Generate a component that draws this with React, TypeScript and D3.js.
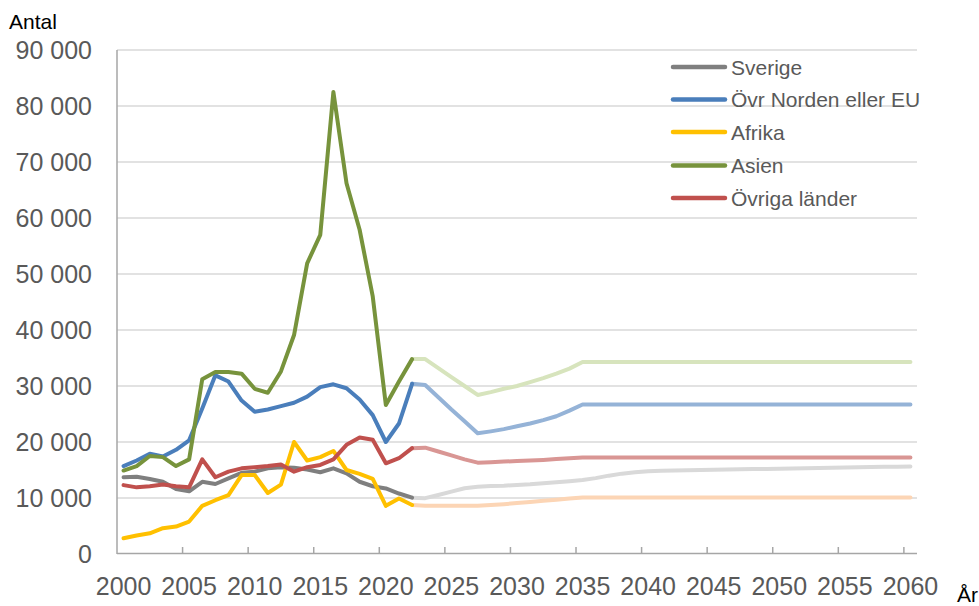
import React from "react";
import * as d3 from "d3";

const years: number[] = d3.range(2000, 2061);
const histYears: number[] = d3.range(2000, 2023);
const projYears: number[] = d3.range(2022, 2061);

const seriesNames = ["Sverige", "Övr Norden eller EU", "Afrika", "Asien", "Övriga länder"];
const histColors = ["#7f7f7f", "#4a7ebb", "#ffc000", "#77933c", "#c0504d"];
const projColors = ["#d9d9d9", "#95b3d7", "#fcd5b5", "#d7e4bd", "#d99694"];

// Historical 2000–2022
const sverigeHist = [13700, 13800, 13400, 12900, 11600, 11200, 12900, 12500, 13500, 14500, 14700, 15300, 15500, 15400, 15100, 14600, 15300, 14400, 12900, 12100, 11700, 10800, 10060];
const norden2Hist = [15700, 16700, 17900, 17400, 18600, 20300, 26000, 31900, 30800, 27400, 25400, 25800, 26400, 27000, 28100, 29800, 30300, 29600, 27600, 24800, 20000, 23300, 30400];
const afrikaHist = [2800, 3300, 3700, 4600, 4900, 5800, 8600, 9600, 10500, 14100, 14100, 10900, 12400, 20000, 16700, 17300, 18400, 15000, 14300, 13400, 8600, 9900, 8750];
const asienHist = [14900, 15700, 17500, 17300, 15700, 16900, 31200, 32500, 32500, 32200, 29500, 28800, 32600, 39100, 51900, 57000, 82500, 66200, 57900, 46000, 26600, 30800, 34800];
const ovrigaHist = [12300, 11900, 12100, 12400, 12100, 11900, 16900, 13700, 14700, 15300, 15500, 15700, 16000, 14700, 15500, 15900, 16900, 19500, 20800, 20400, 16200, 17100, 18900];

// Projection 2022–2060
const sverigeProj = [10060, 9970, 10540, 11130, 11730, 12020, 12140, 12200, 12320, 12440, 12620, 12800, 13000, 13200, 13550, 13990, 14350, 14580, 14760, 14850, 14910, 14960, 15000, 15040, 15080, 15120, 15160, 15200, 15240, 15280, 15320, 15360, 15400, 15440, 15480, 15520, 15560, 15600, 15640];
const nordenProj = [30400, 30180, 28000, 25800, 23700, 21550, 21900, 22300, 22800, 23300, 23900, 24600, 25600, 26700, 26700, 26700, 26700, 26700, 26700, 26700, 26700, 26700, 26700, 26700, 26700, 26700, 26700, 26700, 26700, 26700, 26700, 26700, 26700, 26700, 26700, 26700, 26700, 26700, 26700];
const afrikaProj = [8750, 8630, 8630, 8630, 8630, 8630, 8750, 8900, 9100, 9300, 9500, 9700, 9900, 10100, 10100, 10100, 10100, 10100, 10100, 10100, 10100, 10100, 10100, 10100, 10100, 10100, 10100, 10100, 10100, 10100, 10100, 10100, 10100, 10100, 10100, 10100, 10100, 10100, 10100];
const asienProj = [34800, 34800, 33200, 31600, 30000, 28400, 28900, 29500, 30000, 30700, 31400, 32200, 33100, 34300, 34300, 34300, 34300, 34300, 34300, 34300, 34300, 34300, 34300, 34300, 34300, 34300, 34300, 34300, 34300, 34300, 34300, 34300, 34300, 34300, 34300, 34300, 34300, 34300, 34300];
const ovrigaProj = [18900, 18990, 18300, 17600, 16900, 16310, 16400, 16500, 16600, 16700, 16800, 16950, 17100, 17250, 17250, 17250, 17250, 17250, 17250, 17250, 17250, 17250, 17250, 17250, 17250, 17250, 17250, 17250, 17250, 17250, 17250, 17250, 17250, 17250, 17250, 17250, 17250, 17250, 17250];

const histSeries = [sverigeHist, norden2Hist, afrikaHist, asienHist, ovrigaHist];
const projSeries = [sverigeProj, nordenProj, afrikaProj, asienProj, ovrigaProj];

const yTicks = [0, 10000, 20000, 30000, 40000, 50000, 60000, 70000, 80000, 90000];
const xLabelYears = [2000, 2005, 2010, 2015, 2020, 2025, 2030, 2035, 2040, 2045, 2050, 2055, 2060];

const W = 979;
const H = 606;
const left = 117;
const right = 917;
const top = 50;
const bottom = 554;

const font = "'Liberation Sans', Arial, sans-serif";

export default function App() {
  const x = d3.scalePoint<number>().domain(years).range([left, right]).padding(0.5);
  const step = x.step();
  const y = d3.scaleLinear().domain([0, 90000]).range([bottom, top]);
  const fmt = (v: number) => (v === 0 ? "0" : d3.format(",")(v).replace(/,/g, " "));

  const line = (yrs: number[]) =>
    d3
      .line<number>()
      .x((_, i) => x(yrs[i]) as number)
      .y((d) => y(d));

  return (
    <svg width={W} height={H} style={{ position: "absolute", left: 0, top: 0, background: "#fff" }}>
      <rect x={0} y={0} width={W} height={H} fill="#fff" />
      {/* gridlines */}
      {yTicks.filter((t) => t > 0).map((t) => (
        <line key={t} x1={left} x2={right} y1={y(t)} y2={y(t)} stroke="#d9d9d9" strokeWidth={1.5} />
      ))}
      {/* axes */}
      <line x1={left} x2={left} y1={top} y2={bottom} stroke="#a6a6a6" strokeWidth={1.5} />
      <line x1={left} x2={right} y1={bottom - 0.5} y2={bottom - 0.5} stroke="#a6a6a6" strokeWidth={1.5} />
      {d3.range(5, 61, 5).map((k) => (
        <line key={k} x1={left + k * step} x2={left + k * step} y1={bottom - 7} y2={bottom} stroke="#a6a6a6" strokeWidth={1.5} />
      ))}
      {/* y labels */}
      {yTicks.map((t) => (
        <text key={t} x={92} y={y(t) + 9} textAnchor="end" fontFamily={font} fontSize={25} fill="#595959">
          {fmt(t)}
        </text>
      ))}
      {/* x labels */}
      {xLabelYears.map((yr) => (
        <text key={yr} x={x(yr) as number} y={595} textAnchor="middle" fontFamily={font} fontSize={25} fill="#595959">
          {yr}
        </text>
      ))}
      <text x={9} y={29} fontFamily={font} fontSize={21} fill="#000">Antal</text>
      <text x={957} y={602} fontFamily={font} fontSize={21} fill="#000">År</text>
      {/* projections */}
      {projSeries.map((s, i) => (
        <path key={"p" + i} d={line(projYears)(s) || ""} fill="none" stroke={projColors[i]} strokeWidth={4} strokeLinejoin="round" strokeLinecap="round" />
      ))}
      {/* historical */}
      {histSeries.map((s, i) => (
        <path key={"h" + i} d={line(histYears)(s) || ""} fill="none" stroke={histColors[i]} strokeWidth={4} strokeLinejoin="round" strokeLinecap="round" />
      ))}
      {/* legend */}
      {seriesNames.map((n, i) => {
        const ly = [67, 99.5, 132, 165.5, 198][i];
        return (
          <g key={n}>
            <line x1={673} x2={725} y1={ly} y2={ly} stroke={histColors[i]} strokeWidth={4.5} strokeLinecap="round" />
            <text x={731} y={ly + 7.5} fontFamily={font} fontSize={21} fill="#595959">
              {n}
            </text>
          </g>
        );
      })}
    </svg>
  );
}
